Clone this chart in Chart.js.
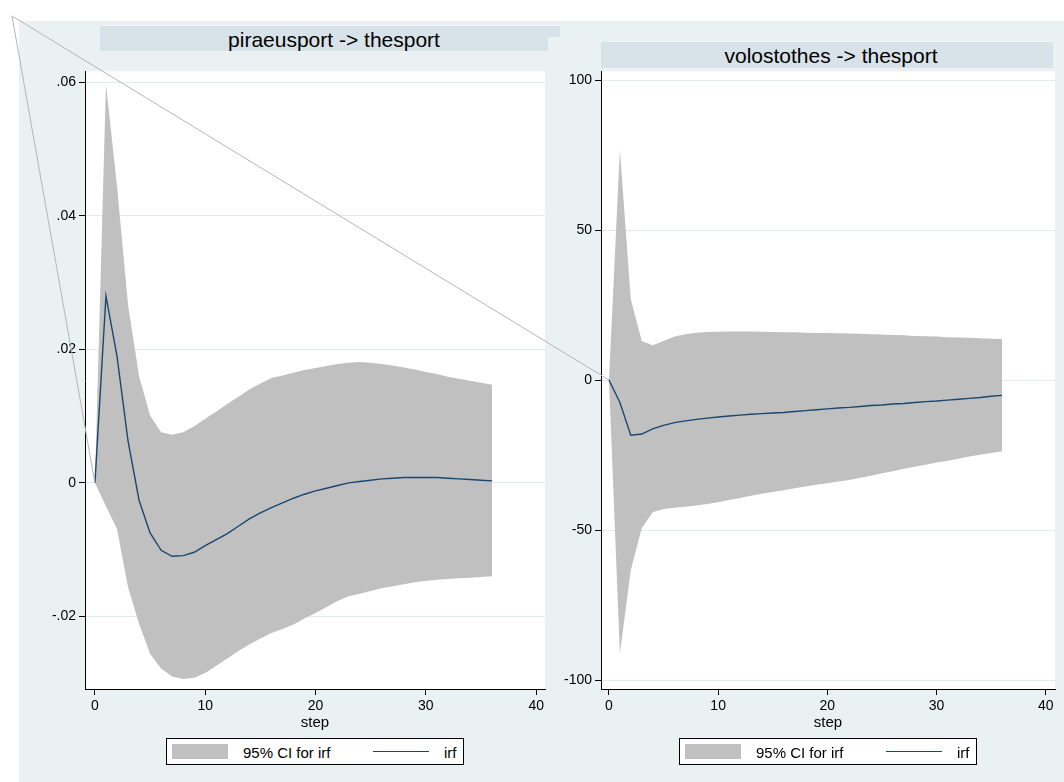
<!DOCTYPE html>
<html>
<head>
<meta charset="utf-8">
<title>irf</title>
<script src="https://cdn.jsdelivr.net/npm/chart.js@4.4.1/dist/chart.umd.min.js"></script>
<style>
  html, body { margin: 0; padding: 0; background: #fff; }
  body { width: 1064px; height: 782px; position: relative; overflow: hidden;
         font-family: "Liberation Sans", Arial, sans-serif; color: #000; }
  #bg { position: absolute; left: 19px; top: 21px; right: 0; bottom: 0; background: #e9f1f3; }
  .bar { position: absolute; background: #d7e3e9; }
  .ttl { position: absolute; font-size: 21px; white-space: nowrap; transform: translate(-50%, -50%); line-height: 1; }
  canvas { position: absolute; }
  .legend { position: absolute; width: 298px; height: 27px; background: #fff;
            border: 1px solid #000; box-sizing: border-box; font-size: 15px; }
  .legend .sw { position: absolute; left: 5px; top: 5px; width: 56px; height: 15px; }
  .legend .ln { position: absolute; left: 206px; top: 12px; width: 56px; height: 0; border-top: 1.5px solid; }
  .legend span { position: absolute; top: 50%; transform: translateY(-50%); white-space: nowrap; line-height: 1; }
  #zoomlines { left: 0; top: 0; pointer-events: none; }
</style>
</head>
<body>
<div id="bg"></div>
<div class="bar" style="left:100px; top:26px; width:460px; height:11px;"></div>
<div class="bar" style="left:100px; top:26px; width:448px; height:25px;"></div>
<div class="ttl" style="left:334px; top:39px;">piraeusport -&gt; thesport</div>
<div class="bar" style="left:601px; top:42px; width:452px; height:26px;"></div>
<div class="ttl" style="left:831px; top:55px;">volostothes -&gt; thesport</div>

<canvas id="left" width="530" height="680" style="left:20px; top:60px;"></canvas>
<canvas id="right" width="524" height="680" style="left:536px; top:60px;"></canvas>
<div id="legendLeft" class="legend"></div>
<div id="legendRight" class="legend"></div>
<canvas id="zoomlines" width="1064" height="782"></canvas>

<script>
// steps of the impulse response
const steps = [0, 1, 2, 3, 4, 5, 6, 7, 8, 9, 10, 11, 12, 13, 14, 15, 16, 17, 18,
  19, 20, 21, 22, 23, 24, 25, 26, 27, 28, 29, 30, 31, 32, 33, 34, 35, 36];

// piraeusport -> thesport
const irfPiraeus = [0, 0.0280, 0.0190, 0.0063, -0.0026, -0.0075, -0.0101, -0.0110, -0.0109, -0.0104,
  -0.0094, -0.0085, -0.0076, -0.0065, -0.0054, -0.0045, -0.0037, -0.0030, -0.0023, -0.0017,
  -0.0012, -0.0008, -0.0004, 0.0000, 0.0002, 0.0004, 0.0006, 0.0007, 0.0008, 0.0008,
  0.0008, 0.0008, 0.0007, 0.0006, 0.0005, 0.0004, 0.0003];
const upperPiraeus = [0, 0.0597, 0.0445, 0.0267, 0.0160, 0.0101, 0.0076, 0.0072, 0.0076, 0.0085,
  0.0096, 0.0107, 0.0118, 0.0129, 0.0140, 0.0149, 0.0157, 0.0161, 0.0165, 0.0169,
  0.0172, 0.0175, 0.0178, 0.0180, 0.0181, 0.0180, 0.0178, 0.0176, 0.0173, 0.0170,
  0.0166, 0.0163, 0.0159, 0.0156, 0.0153, 0.0150, 0.0147];
const lowerPiraeus = [0, -0.0035, -0.0069, -0.0156, -0.0211, -0.0256, -0.0278, -0.0290, -0.0294, -0.0292,
  -0.0285, -0.0274, -0.0263, -0.0252, -0.0242, -0.0233, -0.0225, -0.0219, -0.0212, -0.0203,
  -0.0195, -0.0186, -0.0177, -0.0170, -0.0166, -0.0162, -0.0158, -0.0155, -0.0152, -0.0149,
  -0.0147, -0.0145, -0.0144, -0.0143, -0.0142, -0.0141, -0.0140];

// volostothes -> thesport
const irfVolos = [0, -7.5, -18.4, -18.0, -16.3, -15.1, -14.2, -13.6, -13.1, -12.7,
  -12.3, -12.0, -11.7, -11.4, -11.2, -11.0, -10.8, -10.5, -10.2, -9.9,
  -9.6, -9.3, -9.1, -8.8, -8.5, -8.3, -8.0, -7.8, -7.5, -7.2,
  -7.0, -6.7, -6.4, -6.1, -5.8, -5.4, -5.1];
const upperVolos = [0, 76.7, 26.9, 13.0, 11.6, 13.0, 14.5, 15.3, 15.8, 16.0,
  16.1, 16.2, 16.2, 16.2, 16.1, 16.0, 15.9, 15.9, 15.8, 15.7,
  15.7, 15.6, 15.5, 15.4, 15.3, 15.2, 15.0, 14.9, 14.7, 14.6,
  14.5, 14.3, 14.2, 14.1, 13.9, 13.8, 13.7];
const lowerVolos = [0, -91.2, -63.3, -49.4, -44.1, -43.0, -42.6, -42.2, -41.8, -41.3,
  -40.7, -40.0, -39.3, -38.6, -37.9, -37.3, -36.7, -36.1, -35.5, -34.9,
  -34.4, -33.8, -33.3, -32.6, -31.9, -31.1, -30.4, -29.6, -28.9, -28.2,
  -27.5, -26.9, -26.2, -25.5, -24.9, -24.3, -23.7];

// axis ticks
const xTicks = [0, 10, 20, 30, 40];
const leftYTicks = [-0.02, 0, 0.02, 0.04, 0.06];
const leftYLabels = ['-.02', '0', '.02', '.04', '.06'];
const rightYTicks = [-100, -50, 0, 50, 100];
const rightYLabels = ['-100', '-50', '0', '50', '100'];

Chart.defaults.font.family = '"Liberation Sans", Arial, sans-serif';
Chart.defaults.color = '#000';

// white plot region
const plotBg = {
  id: 'plotBg',
  beforeDraw(chart) {
    const { ctx, chartArea: a } = chart;
    ctx.save();
    ctx.fillStyle = '#fff';
    ctx.fillRect(a.left, a.top, a.right - a.left, a.bottom - a.top);
    ctx.restore();
  }
};

function makePanel(id, irf, lower, upper, yOpt, xOpt) {
  const pts = arr => steps.map((s, i) => ({ x: s, y: arr[i] }));
  return new Chart(document.getElementById(id), {
    type: 'line',
    data: {
      datasets: [
        { label: 'irf', data: pts(irf), borderColor: '#1a476f', borderWidth: 1.4,
          pointRadius: 0, fill: false, tension: 0 },
        { label: '95% CI for irf', data: pts(upper), borderWidth: 0, borderColor: 'rgba(0,0,0,0)',
          backgroundColor: '#c0c0c0', pointRadius: 0, fill: '+1', tension: 0 },
        { label: 'lower', data: pts(lower), borderWidth: 0, borderColor: 'rgba(0,0,0,0)',
          pointRadius: 0, fill: false, tension: 0 }
      ]
    },
    options: {
      responsive: false,
      animation: false,
      devicePixelRatio: 1,
      layout: { padding: { top: yOpt.padTop, right: 5, bottom: 0, left: 0 } },
      plugins: { legend: { display: false }, tooltip: { enabled: false } },
      scales: {
        x: {
          type: 'linear', min: xOpt.min, max: xOpt.max,
          afterBuildTicks: s => { s.ticks = xTicks.map(v => ({ value: v })); },
          afterFit: s => { s.height = 51; },
          ticks: { font: { size: 14 }, padding: 3, maxRotation: 0, autoSkip: false },
          grid: { drawOnChartArea: false, tickLength: 6, tickColor: '#000' },
          border: { color: '#000', width: 1 },
          title: { display: true, text: 'step', font: { size: 15 }, padding: { top: 0, bottom: 8 } }
        },
        y: {
          type: 'linear', min: yOpt.min, max: yOpt.max,
          afterBuildTicks: s => { s.ticks = yOpt.ticks.map(v => ({ value: v })); },
          afterFit: s => { s.width = 65; },
          ticks: { font: { size: 14 }, padding: 3, autoSkip: false,
                   callback: (v, i) => yOpt.labels[i] },
          grid: { color: '#e3ebed', tickLength: 6, tickColor: '#000' },
          border: { color: '#000', width: 1 }
        }
      }
    },
    plugins: [plotBg]
  });
}

const left = makePanel('left', irfPiraeus, lowerPiraeus, upperPiraeus,
  { min: -0.03088, max: 0.06164, ticks: leftYTicks, labels: leftYLabels, padTop: 8 },
  { min: -0.9, max: 40.8 });
const right = makePanel('right', irfVolos, lowerVolos, upperVolos,
  { min: -103, max: 102.9, ticks: rightYTicks, labels: rightYLabels, padTop: 9 },
  { min: -0.73, max: 40.85 });

// legends built from the datasets
function buildLegend(el, chart) {
  const a = chart.chartArea;
  const off = chart.canvas.offsetLeft;
  el.style.left = (off + (a.left + a.right) / 2 - 149) + 'px';
  el.style.top = '738px';
  const band = chart.data.datasets[1];
  const line = chart.data.datasets[0];
  el.innerHTML =
    '<div class="sw" style="background:' + band.backgroundColor + '"></div>' +
    '<span style="left:76px">' + band.label + '</span>' +
    '<div class="ln" style="border-color:' + line.borderColor + '"></div>' +
    '<span style="left:277px">' + line.label + '</span>';
}
buildLegend(document.getElementById('legendLeft'), left);
buildLegend(document.getElementById('legendRight'), right);

// the two thin grey guide lines that run from the corner to each panel's origin
const apex = [12, 16];
const zc = document.getElementById('zoomlines').getContext('2d');
zc.strokeStyle = '#b5b5b5';
zc.lineWidth = 1;
[left, right].forEach(ch => {
  const ox = ch.canvas.offsetLeft + ch.scales.x.getPixelForValue(0);
  const oy = ch.canvas.offsetTop + ch.scales.y.getPixelForValue(0);
  zc.beginPath();
  zc.moveTo(apex[0], apex[1]);
  zc.lineTo(ox, oy);
  zc.stroke();
});
</script>
</body>
</html>
